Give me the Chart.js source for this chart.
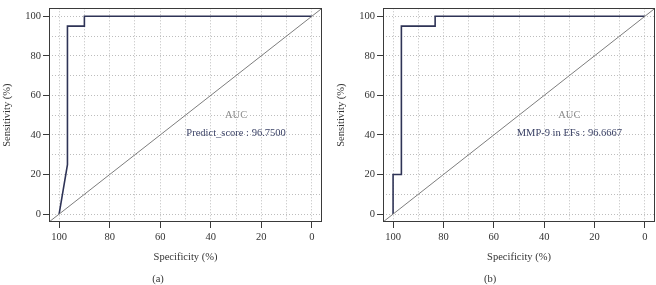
<!DOCTYPE html>
<html>
<head>
<meta charset="utf-8">
<script src="https://cdn.jsdelivr.net/npm/chart.js@4/dist/chart.umd.min.js"></script>
<style>
html,body{margin:0;padding:0;background:#fff;overflow:hidden;}
#wrap{position:relative;width:656px;height:285px;}
.pane{position:absolute;top:0;height:285px;}
</style>
</head>
<body>
<div id="wrap">
  <div class="pane" id="pa" style="left:0;width:328px;"><canvas id="ca"></canvas></div>
  <div class="pane" id="pb" style="left:334px;width:322px;"><canvas id="cb"></canvas></div>
</div>
<script>
// ---- data ----
const specA = [100, 96.7, 96.7, 90, 90, 0];
const sensA = [0, 25, 95, 95, 100, 100];
const specB = [100, 100, 96.7, 96.7, 83.3, 83.3, 0];
const sensB = [0, 20, 20, 95, 95, 100, 100];
const diagSpec = [104, -4];
const diagSens = [-4, 104];
const labelA = 'Predict_score : 96.7500';
const labelB = 'MMP-9 in EFs : 96.6667';
const captionA = '(a)';
const captionB = '(b)';
const xTitle = 'Specificity (%)';
const yTitle = 'Sensitivity (%)';

const SERIF = "'Liberation Serif', 'DejaVu Serif', serif";

function pts(xs, ys){ return xs.map((x,i)=>({x:x, y:ys[i]})); }

const boxPlugin = {
  id:'box',
  afterDraw(chart, args, o){
    const {ctx, chartArea:a, scales} = chart;
    ctx.save();
    ctx.strokeStyle = '#3a3a3a';
    ctx.lineWidth = 1;
    ctx.strokeRect(Math.round(a.left)+0.5, Math.round(a.top)+0.5, Math.round(a.right-a.left)-1, Math.round(a.bottom-a.top)-1);
    // AUC annotation
    ctx.textAlign = 'center';
    ctx.textBaseline = 'middle';
    ctx.font = '10.5px ' + SERIF;
    const tx = scales.x.getPixelForValue(30);
    ctx.fillStyle = '#8c8c8c';
    ctx.fillText('AUC', tx, scales.y.getPixelForValue(50));
    ctx.fillStyle = '#3b4266';
    ctx.fillText(o.label, tx, scales.y.getPixelForValue(40.8));
    // caption
    ctx.fillStyle = '#333';
    ctx.font = '10.5px ' + SERIF;
    ctx.fillText(o.caption, o.capX, 279);
    ctx.restore();
  }
};

function makeChart(id, spec, sens, label, caption, capX, padRight){
  const tickCol = c => (c.tick && Math.round(c.tick.value) % 20 === 0) ? '#3a3a3a' : 'rgba(0,0,0,0)';
  return new Chart(document.getElementById(id), {
    type:'scatter',
    data:{datasets:[
      {data:pts(diagSpec, diagSens), showLine:true, borderColor:'#7d7d7d', borderWidth:1, pointRadius:0, tension:0},
      {data:pts(spec, sens), showLine:true, borderColor:'#2e3356', borderWidth:1.6, pointRadius:0, tension:0}
    ]},
    options:{
      responsive:true, maintainAspectRatio:false, animation:false,
      layout:{padding:{left:0, right:padRight, top:0, bottom:0}},
      plugins:{legend:{display:false}, tooltip:{enabled:false},
        box:{label:label, caption:caption, capX:capX}},
      scales:{
        x:{type:'linear', reverse:true, min:-4, max:104,
          afterFit(s){ s.height = 63; },
          ticks:{stepSize:10, includeBounds:false, autoSkip:false, maxRotation:0, padding:3,
            color:'#333', font:{family:SERIF, size:10.5},
            callback:v => (Math.round(v)%20===0 ? String(v) : '')},
          grid:{color:'#bdbdbd', lineWidth:1, tickLength:6, tickColor:tickCol, tickWidth:1, tickBorderDash:[]},
          border:{display:false, dash:[1,2]},
          title:{display:true, text:xTitle, color:'#333', font:{family:SERIF, size:10.5}, padding:{top:0,bottom:21}}
        },
        y:{type:'linear', min:-4, max:104,
          afterFit(s){ s.width = 49; },
          ticks:{stepSize:10, includeBounds:false, autoSkip:false, padding:2,
            color:'#333', font:{family:SERIF, size:10.5},
            callback:v => (Math.round(v)%20===0 ? String(v) : '')},
          grid:{color:'#bdbdbd', lineWidth:1, tickLength:6, tickColor:tickCol, tickWidth:1, tickBorderDash:[]},
          border:{display:false, dash:[1,2]},
          title:{display:true, text:yTitle, color:'#333', font:{family:SERIF, size:10.5}, padding:{top:1,bottom:0}}
        }
      }
    },
    plugins:[boxPlugin]
  });
}

makeChart('ca', specA, sensA, labelA, captionA, 158, 6);
makeChart('cb', specB, sensB, labelB, captionB, 156, 1);
</script>
</body>
</html>
